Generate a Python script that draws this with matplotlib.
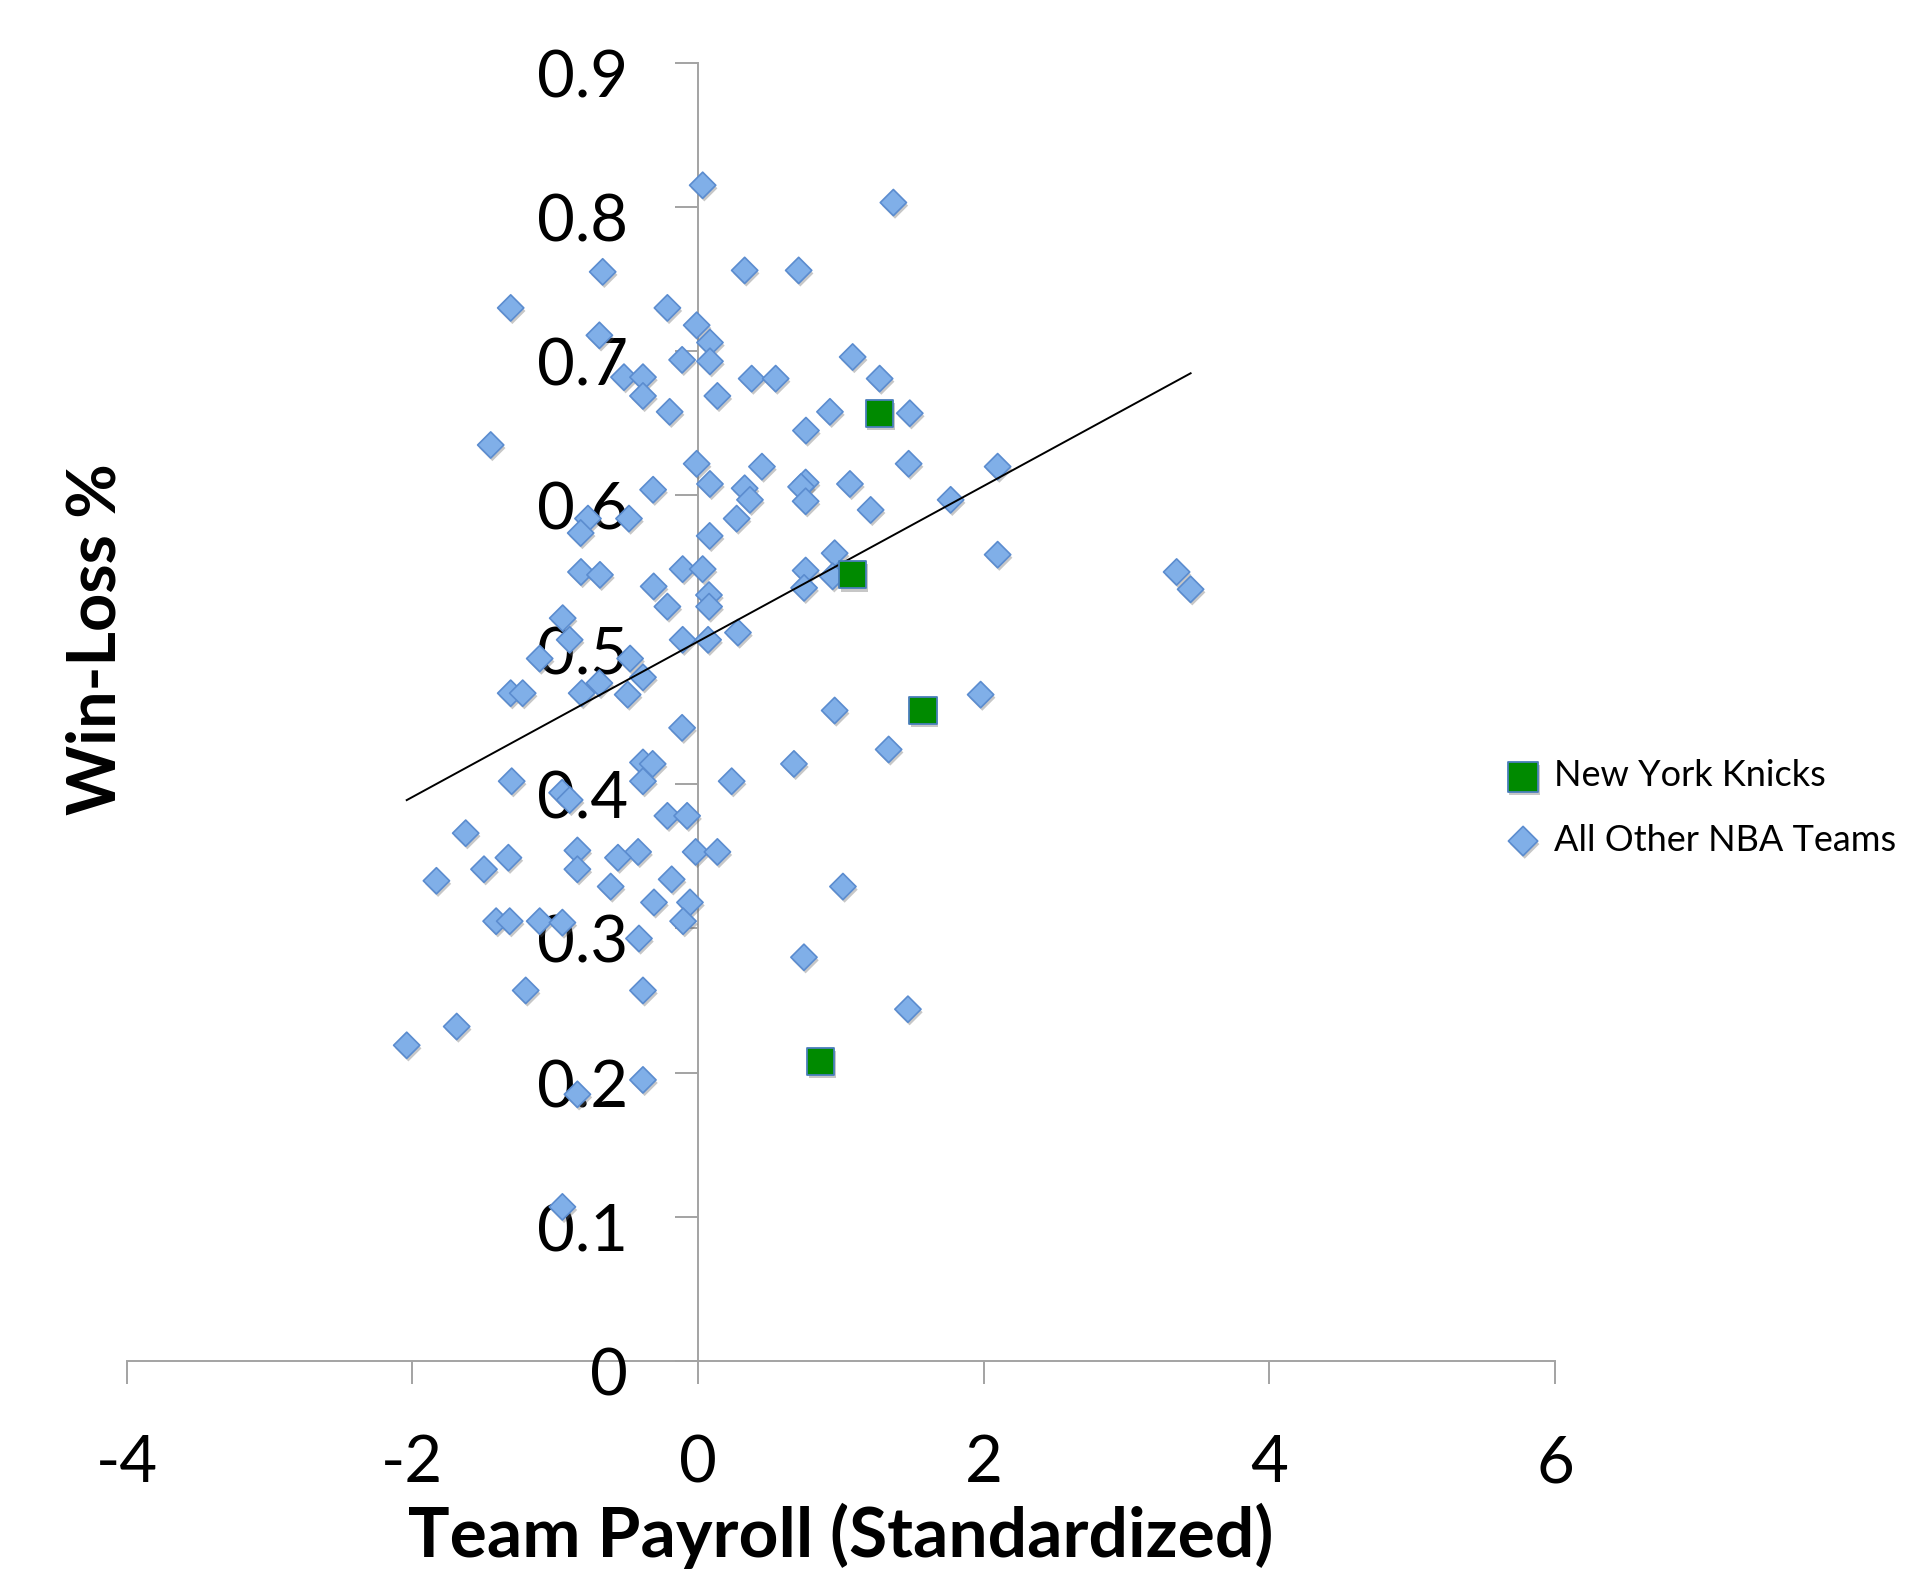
import numpy as np
import matplotlib
matplotlib.use("Agg")
import matplotlib.pyplot as plt
import matplotlib.patheffects as pe
import matplotlib.transforms as mtransforms

# ---------------- data ----------------
knicks_payroll = [1.270, 1.083, 1.576, 0.859]
knicks_winloss = [0.657, 0.545, 0.451, 0.208]

other_payroll = [
    0.033, 1.368, -0.667, 0.327, 0.705, -1.311, -0.214, -0.009, -0.690, 0.084,
    -0.111, 0.084, 1.083, -0.518, -0.385, 0.376, 0.544, 1.272, -0.385, 0.136,
    -0.198, 0.924, 1.483, 0.756, -1.451, -0.009, 0.448, 1.475, 2.098, 0.084,
    0.754, 1.064, -0.314, 0.327, 0.722, 0.364, 0.754, 1.769, 1.209, -0.770,
    -0.483, 0.271, -0.821, 0.082, 0.957, 2.098, -0.819, -0.686, -0.107, 0.033,
    0.754, 0.943, 3.351, 3.449, -0.310, 0.743, 0.077, -0.214, 0.078, -0.947,
    -0.898, -0.107, 0.071, 0.280, -1.108, -0.475, -0.385, -0.690, -1.311, -1.227,
    -0.814, -0.492, 1.979, 0.957, -0.111, -0.385, -0.317, 0.672, 1.335, -0.385,
    -1.304, 0.236, -0.951, -0.898, -0.214, -0.076, -1.626, -0.844, -0.419, -0.016,
    0.136, -1.327, -1.498, -0.560, -0.844, -1.831, -0.184, -0.611, 1.015, -0.308,
    -0.056, -1.413, -1.318, -1.108, -0.949, -0.104, -0.413, 0.742, -1.206, -0.385,
    1.470, -1.689, -2.039, -0.385, -0.844, -0.949,
]
other_winloss = [
    0.815, 0.803, 0.755, 0.756, 0.756, 0.730, 0.730, 0.718, 0.711, 0.706,
    0.694, 0.693, 0.696, 0.682, 0.682, 0.681, 0.681, 0.681, 0.669, 0.669,
    0.658, 0.658, 0.657, 0.645, 0.635, 0.622, 0.620, 0.622, 0.620, 0.608,
    0.609, 0.608, 0.604, 0.605, 0.606, 0.597, 0.596, 0.597, 0.590, 0.584,
    0.584, 0.584, 0.574, 0.572, 0.560, 0.559, 0.547, 0.545, 0.549, 0.549,
    0.548, 0.544, 0.547, 0.535, 0.537, 0.536, 0.531, 0.523, 0.523, 0.515,
    0.500, 0.500, 0.500, 0.505, 0.487, 0.487, 0.474, 0.470, 0.463, 0.463,
    0.463, 0.462, 0.462, 0.451, 0.439, 0.415, 0.414, 0.414, 0.424, 0.402,
    0.402, 0.402, 0.394, 0.389, 0.378, 0.378, 0.366, 0.354, 0.353, 0.353,
    0.353, 0.349, 0.341, 0.349, 0.341, 0.333, 0.334, 0.329, 0.329, 0.318,
    0.318, 0.305, 0.305, 0.305, 0.304, 0.305, 0.293, 0.280, 0.257, 0.257,
    0.244, 0.232, 0.219, 0.195, 0.185, 0.107,
]

# linear trend line
trend_slope = 0.0539
trend_intercept = 0.4988

x_ticks = [-4, -2, 0, 2, 4, 6]
y_ticks = [0, 0.1, 0.2, 0.3, 0.4, 0.5, 0.6, 0.7, 0.8, 0.9]
y_tick_labels = ["0", "0.1", "0.2", "0.3", "0.4", "0.5", "0.6", "0.7", "0.8", "0.9"]

series_names = ["New York Knicks", "All Other NBA Teams"]
x_title = "Team Payroll (Standardized)"
y_title = "Win-Loss %"

# ---------------- styling ----------------
plt.rcParams["font.family"] = ["Lato", "DejaVu Sans"]
AXIS_GRAY = "#a3a3a3"
DIAMOND_FACE = "#80afe8"
DIAMOND_EDGE = "#5b8ccf"
SQUARE_FACE = "#008a00"
SQUARE_EDGE = "#4a7ebb"

fig = plt.figure(figsize=(19.08, 15.70), dpi=100)
W, H = 1908.0, 1570.0
x0, x1 = 126.6, 1555.0
y_top, y_bot = 62.6, 1361.3
ax = fig.add_axes([x0 / W, 1 - y_bot / H, (x1 - x0) / W, (y_bot - y_top) / H])

ax.set_xlim(-4, 6)
ax.set_ylim(0, 0.9)

shadow = [pe.SimplePatchShadow(offset=(1.2, -2.2), shadow_rgbFace="#606060", alpha=0.35), pe.Normal()]

dia = ax.scatter(other_payroll, other_winloss, marker="D", s=178,
                 facecolor=DIAMOND_FACE, edgecolor=DIAMOND_EDGE, linewidths=1.2,
                 zorder=3, path_effects=shadow, label=series_names[1])

xmin, xmax = min(other_payroll + knicks_payroll), max(other_payroll + knicks_payroll)
tx = np.array([xmin, xmax])
ax.plot(tx, trend_intercept + trend_slope * tx, color="black", lw=1.4, zorder=4)

sq = ax.scatter(knicks_payroll, knicks_winloss, marker="s", s=385,
                facecolor=SQUARE_FACE, edgecolor=SQUARE_EDGE, linewidths=1.3,
                zorder=5, path_effects=shadow, label=series_names[0])

# spines: y axis crosses at x = 0
for side in ("top", "right"):
    ax.spines[side].set_visible(False)
ax.spines["left"].set_position(("data", 0))
for side in ("left", "bottom"):
    ax.spines[side].set_color(AXIS_GRAY)
    ax.spines[side].set_linewidth(1.4)
    ax.spines[side].set_zorder(1)

ax.set_xticks(x_ticks)
ax.set_xticklabels([str(t) for t in x_ticks])
ax.set_yticks(y_ticks)
ax.set_yticklabels(y_tick_labels)
ax.tick_params(axis="both", direction="out", length=16.5, width=1.4,
               color=AXIS_GRAY, labelsize=47, labelcolor="black", pad=34)

# nudge y tick labels slightly downwards (as in the reference)
y_shift = mtransforms.ScaledTranslation(0, -7.5 / 72, fig.dpi_scale_trans)
for lab in ax.get_yticklabels():
    lab.set_transform(lab.get_transform() + y_shift)
x_shift = mtransforms.ScaledTranslation(0, -2.0 / 72, fig.dpi_scale_trans)
for lab in ax.get_xticklabels():
    lab.set_transform(lab.get_transform() + x_shift)

ax.set_xlabel(x_title, fontsize=50, fontweight="bold", va="baseline")
ax.xaxis.set_label_coords(0.5, -(1557 - y_bot) / (y_bot - y_top))
ax.set_ylabel(y_title, fontsize=48, fontweight="bold", va="center", ha="center")
ax.yaxis.set_label_coords((97 - x0) / (x1 - x0), (y_bot - 639.4) / (y_bot - y_top))

leg = ax.legend([sq, dia], series_names, loc="center left",
                bbox_to_anchor=(1505 / W, 1 - 808 / H), bbox_transform=fig.transFigure,
                frameon=False, fontsize=26.0, handlelength=1.0, handletextpad=0.36,
                labelspacing=0.86, borderpad=0, borderaxespad=0,
                markerscale=1.12, scatterpoints=1)

fig.savefig("out.png", dpi=100)
